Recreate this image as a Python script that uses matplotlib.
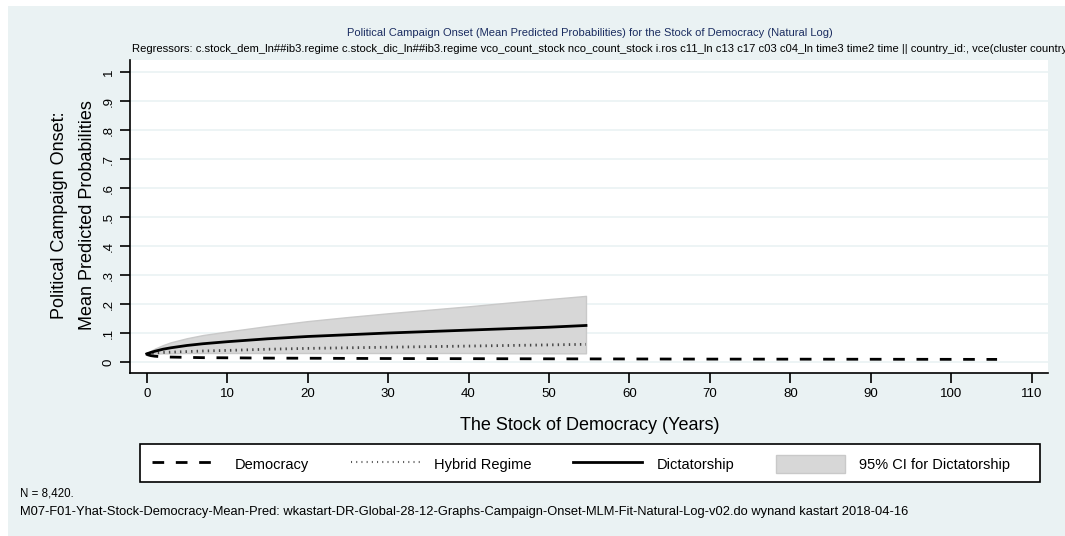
import matplotlib
matplotlib.use("Agg")
import matplotlib.pyplot as plt
from matplotlib.patches import Rectangle, Patch
from matplotlib.lines import Line2D

plt.rcParams['font.family'] = ['Liberation Sans', 'DejaVu Sans']

# Mean predicted probabilities by stock of democracy (years)
dict_x = [0, 0.5, 1, 2, 3, 5, 7, 10, 15, 20, 25, 30, 35, 40, 45, 50, 54.6]
dict_y = [0.028, 0.033, 0.037, 0.044, 0.049, 0.057, 0.063, 0.070, 0.080, 0.088,
          0.094, 0.100, 0.105, 0.110, 0.115, 0.120, 0.126]
dict_lo = [0.028, 0.029, 0.029, 0.030, 0.030, 0.031, 0.031, 0.031, 0.031, 0.031,
           0.031, 0.031, 0.031, 0.031, 0.030, 0.030, 0.030]
dict_hi = [0.028, 0.038, 0.046, 0.058, 0.068, 0.082, 0.093, 0.105, 0.124, 0.141,
           0.155, 0.168, 0.180, 0.192, 0.205, 0.217, 0.228]

hyb_x = [0, 0.5, 1, 2, 3, 5, 7, 10, 15, 20, 25, 30, 35, 40, 45, 50, 54.6]
hyb_y = [0.028, 0.030, 0.031, 0.033, 0.034, 0.036, 0.038, 0.040, 0.044, 0.047,
         0.049, 0.051, 0.053, 0.055, 0.057, 0.059, 0.061]

dem_x = [0, 0.5, 1, 2, 3, 5, 7, 10, 15, 20, 30, 40, 50, 60, 70, 80, 90, 100, 105.7]
dem_y = [0.026, 0.022, 0.020, 0.018, 0.017, 0.016, 0.015, 0.0145, 0.0135, 0.013,
         0.012, 0.0115, 0.011, 0.0105, 0.010, 0.0098, 0.0095, 0.0092, 0.009]

x_ticks = list(range(0, 111, 10))
y_ticks = [i / 10 for i in range(11)]
y_labels = ['0', '.1', '.2', '.3', '.4', '.5', '.6', '.7', '.8', '.9', '1']

title = ("Political Campaign Onset (Mean Predicted Probabilities) "
         "for the Stock of Democracy (Natural Log)")
subtitle = ("Regressors: c.stock_dem_ln##ib3.regime c.stock_dic_ln##ib3.regime "
            "vco_count_stock nco_count_stock i.ros c11_ln c13 c17 c03 c04_ln "
            "time3 time2 time || country_id:, vce(cluster country_id)")
note1 = "N = 8,420."
note2 = ("M07-F01-Yhat-Stock-Democracy-Mean-Pred: wkastart-DR-Global-28-12-Graphs-"
         "Campaign-Onset-MLM-Fit-Natural-Log-v02.do wynand kastart 2018-04-16")

BG = '#eaf2f3'
W, H = 1065, 536
DASH = (0, (4.2, 4.2))
DOT = (0, (0.5, 1.5))

fig = plt.figure(figsize=(W / 100, H / 100), dpi=100, facecolor='white')

# graph region background
fig.patches.append(Rectangle((8 / W, 0), 1 - 8 / W, 1 - 6 / H,
                             transform=fig.transFigure, facecolor=BG,
                             edgecolor='none', zorder=-5))

ax = fig.add_axes([130 / W, 1 - 373 / H, (1048 - 130) / W, (373 - 60) / H])
ax.set_zorder(2)
ax.set_facecolor('white')
ax.set_xlim(-2.08, 112.03)
ax.set_ylim(-0.0379, 1.0414)

for v in y_ticks:
    ax.axhline(v, color=BG, lw=1.2, zorder=0.5)

ax.fill_between(dict_x, dict_lo, dict_hi, facecolor='#d7d7d7',
                edgecolor='#c9c9c9', lw=1.0, zorder=2)
ax.plot(dem_x, dem_y, color='black', lw=2.0, ls=DASH, zorder=3)
ax.plot(hyb_x, hyb_y, color='#444444', lw=2.0, ls=DOT, zorder=3)
ax.plot(dict_x, dict_y, color='black', lw=2.0, zorder=4)

for s in ['top', 'right']:
    ax.spines[s].set_visible(False)
for s in ['left', 'bottom']:
    ax.spines[s].set_linewidth(1.2)

ax.set_xticks(x_ticks)
ax.set_yticks(y_ticks)
ax.set_yticklabels(y_labels, rotation=90, va='center')
ax.tick_params(axis='both', direction='out', length=7, width=1.2,
               labelsize=9.5, pad=4)

fig.text(590 / W, 1 - 33 / H, title, ha='center', va='center',
         fontsize=8.0, color='#1a2c60')
fig.text(132 / W, 1 - 49 / H, subtitle, ha='left', va='center',
         fontsize=8.1, color='black')

fig.text(60 / W, 1 - 215 / H, "Political Campaign Onset:", rotation=90,
         ha='center', va='center', fontsize=13)
fig.text(87 / W, 1 - 215 / H, "Mean Predicted Probabilities", rotation=90,
         ha='center', va='center', fontsize=13)
fig.text(590 / W, 1 - 425 / H, "The Stock of Democracy (Years)",
         ha='center', va='center', fontsize=13)

# legend frame and entries
fig.patches.append(Rectangle((140 / W, 1 - 482 / H), 900 / W, 38 / H,
                             transform=fig.transFigure, facecolor='white',
                             edgecolor='black', lw=1.2, zorder=1))
handles = [
    Line2D([], [], color='black', lw=2.0, ls=DASH),
    Line2D([], [], color='#555555', lw=1.5, ls=(0, (0.5, 2.0))),
    Line2D([], [], color='black', lw=2.0),
    Patch(facecolor='#d7d7d7', edgecolor='#c9c9c9'),
]
labels = ['Democracy', 'Hybrid Regime', 'Dictatorship', '95% CI for Dictatorship']
leg = fig.legend(handles, labels, ncol=4, mode='expand',
                 bbox_to_anchor=(143 / W, 1 - 482 / H, 876 / W, 38 / H),
                 loc='lower left', fontsize=10.5, frameon=False,
                 handlelength=4.7, handleheight=1.6, handletextpad=1.0,
                 borderaxespad=0, borderpad=0.6)
leg.set_zorder(3)

fig.text(20 / W, 1 - 493 / H, note1, ha='left', va='center', fontsize=8.3)
fig.text(20 / W, 1 - 512 / H, note2, ha='left', va='center', fontsize=9.3)

fig.savefig('out.png', dpi=100, facecolor='white')
